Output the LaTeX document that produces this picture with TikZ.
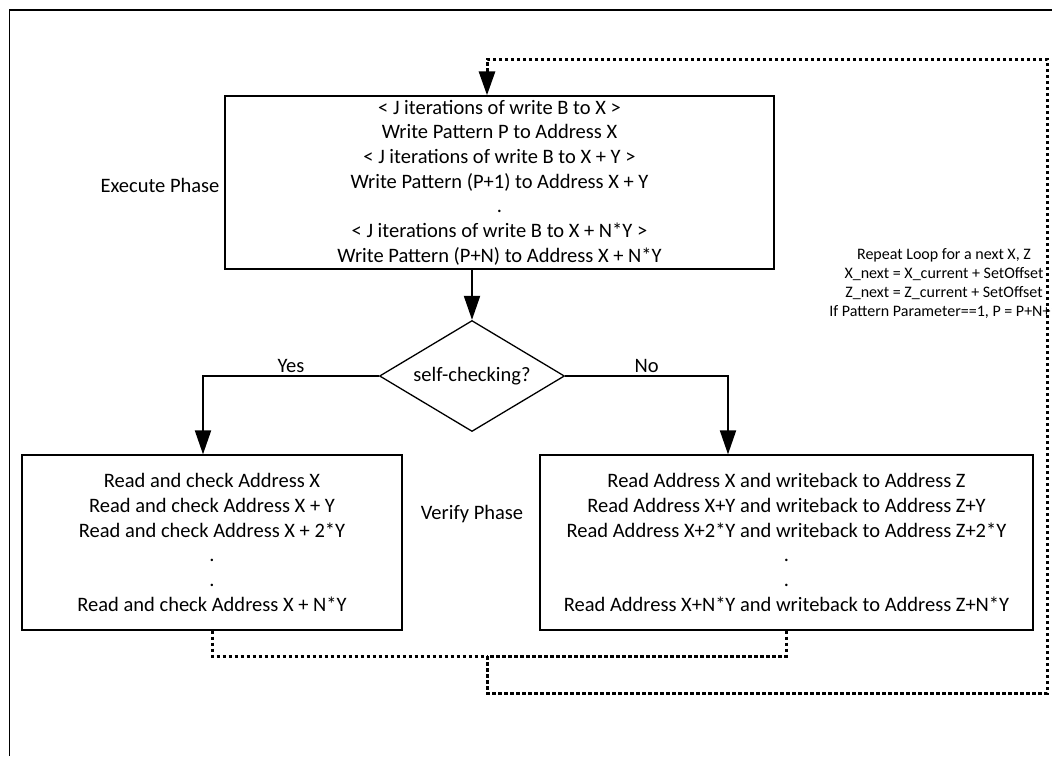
\documentclass[tikz,border=0pt]{standalone}
\usepackage{fontspec}
\setmainfont{Carlito}
\usetikzlibrary{arrows.meta,shapes.geometric}
\begin{document}
\begin{tikzpicture}[x=1pt,y=-1pt,
  boxst/.style={draw,line width=1.3pt,inner sep=0pt,align=center},
  mainfont/.style={font=\fontsize{20.5}{24.7}\selectfont},
  solidarr/.style={line width=2pt,-{Triangle[width=16pt,length=24pt]}},
  loopline/.style={line width=3pt,dash pattern=on 3.5pt off 2.5pt},
  label/.style={font=\fontsize{20.5}{22}\selectfont,inner sep=0pt}]
\useasboundingbox (0,0) rectangle (1052,756);
\draw[line width=1.5pt] (9.5,756) -- (9.5,10) -- (1052,10);

\node[boxst,mainfont,minimum width=549pt,minimum height=173pt] (top) at (499.5,182.5)
 {< J iterations of write B to X >\\
  Write Pattern P to Address X\\
  < J iterations of write B to X + Y >\\
  Write Pattern (P+1) to Address X + Y\\
  .\\
  < J iterations of write B to X + N*Y >\\
  Write Pattern (P+N) to Address X + N*Y};

\node[label] (exec) at (160,185) {Execute Phase};

\node[draw,diamond,line width=1.3pt,minimum width=185pt,minimum height=111pt,inner sep=0pt] (dia) at (472,376) {};
\node[label] (diatext) at (dia.center) {self-checking?};

\node[boxst,mainfont,minimum width=380pt,minimum height=175pt] (lbox) at (212,542.5)
 {Read and check Address X\\
  Read and check Address X + Y\\
  Read and check Address X + 2*Y\\
  .\\
  .\\
  Read and check Address X + N*Y};

\node[boxst,mainfont,minimum width=493pt,minimum height=175pt] (rbox) at (786.5,542.5)
 {Read Address X and writeback to Address Z\\
  Read Address X+Y and writeback to Address Z+Y\\
  Read Address X+2*Y and writeback to Address Z+2*Y\\
  .\\
  .\\
  Read Address X+N*Y and writeback to Address Z+N*Y};

\node[label] (verify) at (472,514) {Verify Phase};

\node[align=center,inner sep=0pt,font=\fontsize{16}{19}\selectfont] (note) at (944,283.5)
 {Repeat Loop for a next X, Z\\
  X\_next = X\_current + SetOffset\\
  Z\_next = Z\_current + SetOffset\\
  If Pattern Parameter==1, P = P+N+1};

\draw[solidarr] (dia.north |- top.south) -- (dia.north);
\draw[solidarr] (dia.west) -| ([xshift=-9pt]lbox.north)
  node[label,pos=0.25,above=2pt] (yes) {Yes};
\draw[solidarr] (dia.east) -| ([xshift=-58.5pt]rbox.north)
  node[label,pos=0.25,above=2pt] (no) {No};

\coordinate (j) at (487,656);
\coordinate (b1) at (487,693);
\coordinate (b2) at (1047,693);
\coordinate (t2) at (1047,59);
\coordinate (t1) at (487,59);
\draw[loopline] (lbox.south) |- (j);
\draw[loopline] (rbox.south) |- (j);
\draw[loopline,-{Triangle[width=16pt,length=24pt]}] (j) -- (b1) -- (b2) -- (t2) -- (t1) -- (t1 |- top.north);
\end{tikzpicture}
\end{document}
